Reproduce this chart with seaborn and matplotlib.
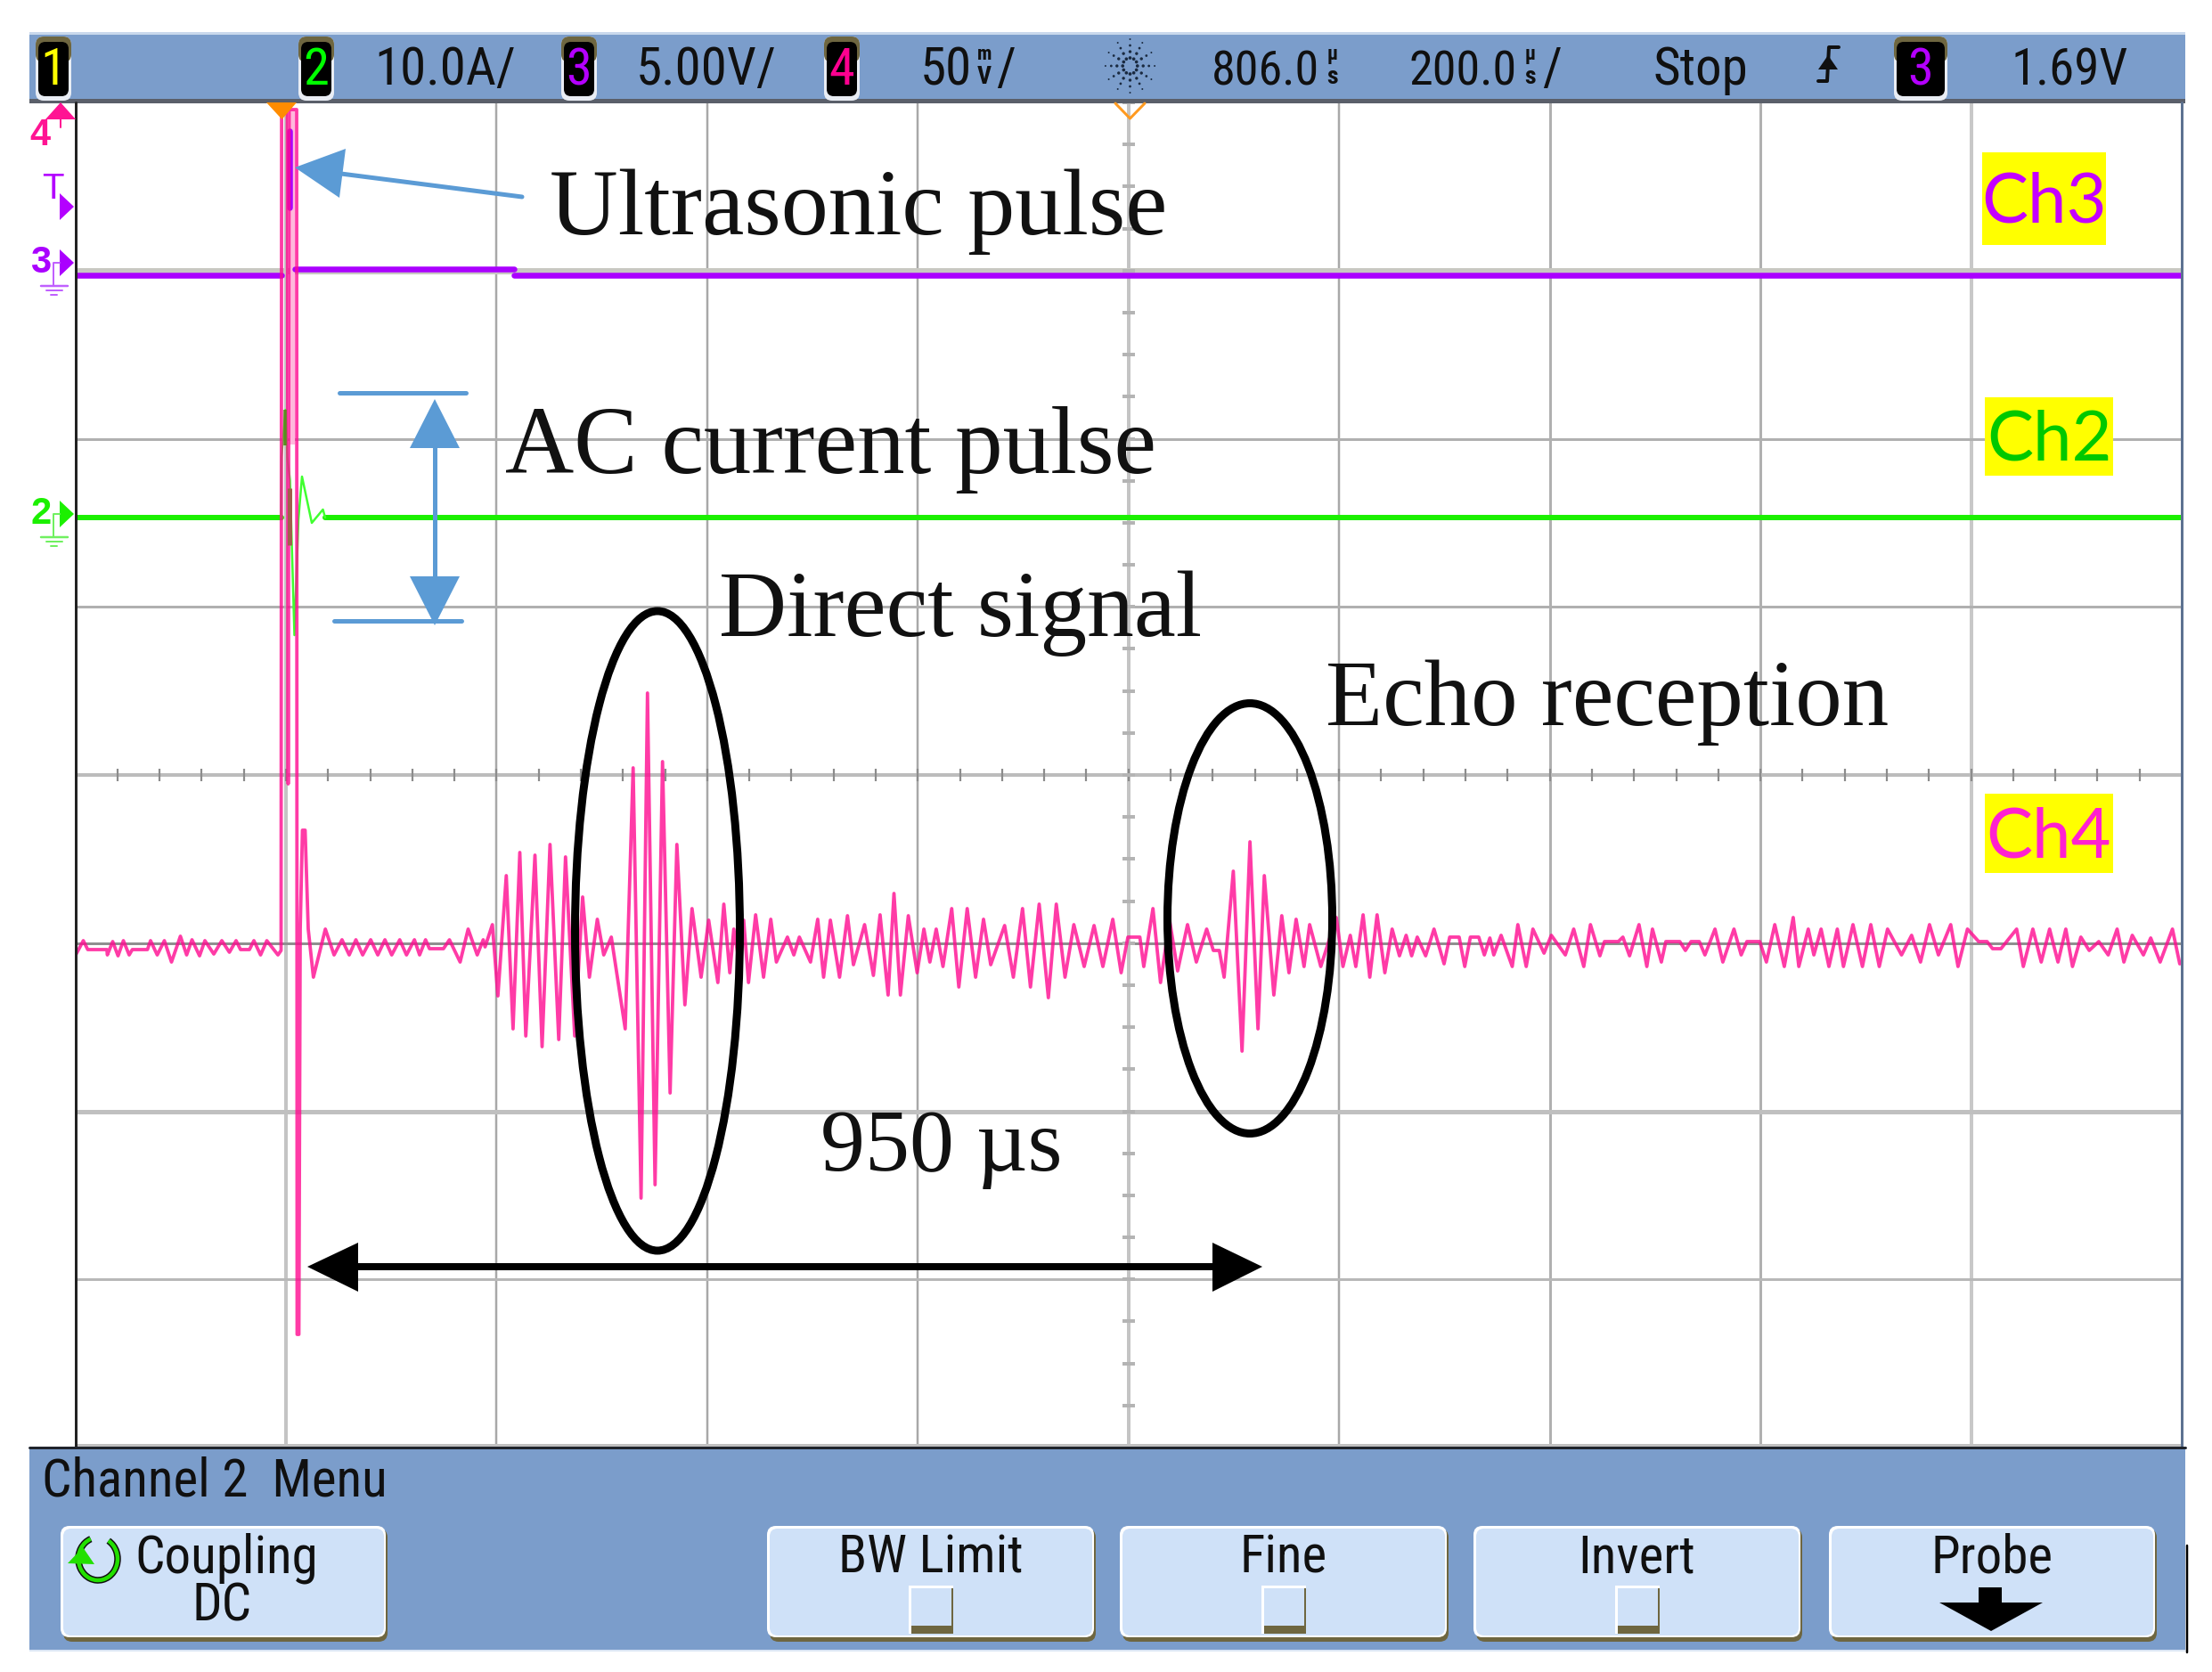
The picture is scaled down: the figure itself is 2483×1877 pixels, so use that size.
import matplotlib
matplotlib.use("Agg")
import matplotlib.pyplot as plt
from matplotlib import font_manager
from matplotlib.patches import Rectangle, FancyBboxPatch, Ellipse, Polygon, Arc
import numpy as np
import pandas as pd
import seaborn as sns

sns.set_theme(style="white")

# trace samples: screen column from left edge, level above the Ch4 ground
ch4_idle_col = [0.5, 9, 14, 35.5, 36, 42, 48, 54, 60.5, 64, 81, 84.5, 92, 100, 108, 118, 125, 131, 139.5, 145.5,
                155.5, 164.5, 173, 180.5, 185.5, 195.5, 200.5, 208, 215, 227.5, 231]
ch4_idle_lev = [-13, 3, -7, -7, -13, 2, -14, 3, -13, -7, -7, 3, -13, 3, -21, 8, -13, 4, -14, 3,
                -12, 3, -10, 3, -7, -7, 3, -13, 3, -13, -8]
ch4_spike_col = [231.6, 238, 239, 240, 248.5, 249, 251, 252.5, 255, 258, 261.5, 267.3, 280.7]
ch4_spike_lev = [936, 936, 179, 936, 936, -439, -439, 16, 127, 127, 16, -38, 16]
ch4_ring_col = [290.5, 299.4, 307.5, 315, 322.6, 331.6, 339.6, 347.6, 355.2, 364.2, 371.8, 380.7, 386.5, 393.2,
                397.6, 413.3, 420, 432, 441, 451.2, 457.9, 460, 468.2, 474.4]
ch4_ring_lev = [-13, 4, -13, 4, -13, 4, -13, 4, -13, 4, -13, 4, -13, 4,
                -6, -6, 4, -21, 16, -13, 4, -4, 21, -59]
ch4_first_col = [483.8, 491.4, 499, 505.7, 516, 524, 532.9, 542.7, 550.3, 560.6, 569.5, 577.1, 586, 593.2, 601.7, 617.3]
ch4_first_lev = [76, -96, 102, -104, 99, -116, 111, -108, 97, -104, 52, -38, 27, -13, 7, -96]
ch4_direct_col = [626.2, 635.1, 642.3, 650.8, 659.2, 667.7, 675.3, 684.3, 692.3, 702.5, 711, 721.3, 728, 734.7,
                  739.2, 745, 750.3, 755.7, 763.7, 772.6, 780.7, 787, 799.4, 806.6, 812.8, 825.3]
ch4_direct_lev = [197, -286, 281, -271, 204, -168, 111, -69, 39, -38, 26, -44, 44, -33,
                  16, -20, 26, -44, 32, -38, 27, -21, 7, -13, 7, -21]
ch4_mid_col = [833.4, 840, 847.6, 857.9, 866.8, 873.5, 886, 895.9, 903.4, 912.4, 919, 926.2, 935.1, 945, 952.6,
               959.3, 966.4, 974, 983.8, 991.8, 1001.2, 1010.6, 1019.5, 1027.6, 1043.2, 1053, 1063.3, 1072.2,
               1082, 1092.3, 1101.2, 1111, 1120.9, 1132.5, 1143.6, 1153.5, 1164.6, 1174, 1181.6, 1195, 1199.4]
ch4_mid_lev = [27, -38, 26, -38, 31, -24, 21, -36, 32, -58, 56, -58, 31, -33, 16,
               -21, 16, -26, 39, -49, 39, -38, 27, -24, 20, -38, 39, -49,
               44, -61, 44, -38, 21, -26, 20, -26, 27, -33, 7, 7, -26]
ch4_echo_col = [1209.7, 1218.2, 1228.4, 1237.4, 1248.5, 1258.4, 1270, 1277.5, 1284.2, 1289.6, 1299.9, 1309.7,
                1318.6, 1327.6, 1334.7, 1345.4, 1354.3, 1362.4, 1370.4, 1379.3, 1385.6, 1398.1]
ch4_echo_lev = [39, -44, 26, -31, 21, -21, 16, -8, -8, -38, 81, -121, 114, -96, 76, -58, 31, -33, 27, -26, 21, -26]
ch4_tail_a_col = [1415.5, 1423, 1431.2, 1437.4, 1445.6, 1453.1, 1461.3, 1470, 1478.2, 1486.4, 1493.9, 1500.1,
                  1506.4, 1515.8, 1525.2, 1536.5, 1542.8, 1553.4, 1559.7, 1566, 1575.4, 1581.7, 1587.9, 1592.3,
                  1600.5, 1613, 1619.3, 1628.7, 1636.2, 1648.7, 1656.9, 1672.6, 1682, 1693.3, 1700.8, 1711.4,
                  1716.5, 1732.1]
ch4_tail_a_lev = [29, -26, 9, -26, 32, -38, 32, -33, 16, -14, 9, -14,
                  7, -14, 16, -23, 7, 7, -26, 7, 7, -13, 6, -13,
                  9, -26, 21, -26, 16, -11, 9, -13, 16, -26, 21, -14,
                  2, 2]
ch4_tail_b_col = [1737.2, 1744.7, 1755.3, 1764.1, 1770.4, 1780.4, 1785.4, 1801.1, 1807.4, 1813.7, 1823, 1829.3,
                  1840.6, 1849.4, 1861.9, 1870, 1876.4, 1890.8, 1898.3, 1907.7, 1918.4, 1928.4, 1934.7, 1945.3,
                  1951.6, 1959.7, 1968.5, 1977.9, 1984.8, 1995.5, 2006.1, 2015.5, 2025, 2034.3, 2050]
ch4_tail_b_lev = [7, -14, 21, -26, 16, -21, 2, 2, -8, 2, 2, -13,
                  16, -21, 16, -13, 2, 2, -21, 21, -26, 29, -26, 16,
                  -13, 16, -26, 16, -26, 21, -26, 21, -26, 16, -13]
ch4_tail_c_col = [2061.3, 2071.3, 2081.4, 2091.4, 2105.2, 2113.4, 2124, 2136.6, 2146, 2152.2, 2161.6, 2179.2,
                  2186.7, 2197.4, 2206.8, 2216.2, 2225.6, 2234.4, 2241.9, 2251.3, 2260.7, 2271.4, 2282, 2292,
                  2299.6, 2309, 2321.5, 2329.7, 2340.3, 2354.1, 2362.3]
ch4_tail_c_lev = [9, -21, 21, -13, 21, -26, 16, 2, 2, -6, -6, 16,
                  -26, 16, -21, 16, -21, 16, -26, 7, -8, 2, -13, 16,
                  -21, 9, -13, 6, -21, 16, -23]

ch3_col = [0, 231, 246.5, 492, 492, 2364.5, 240.5, 240.5]
ch3_lev = [750, 750, 757, 757, 750, 750, 912, 826]
ch3_seg = [0, 0, 1, 1, 2, 2, 3, 3]
ch2_base_col = [0, 231, 280, 2364.5]
ch2_base_lev = [478, 478, 478, 478]
ch2_base_seg = [0, 0, 1, 1]
ch2_pulse_col = [231, 231.5, 236, 238, 241, 246, 250.5, 254.5, 265.5, 278, 280.5]
ch2_pulse_lev = [478, 546, 599, 546, 520, 346, 476, 524, 472, 487, 478]

grid_col_div = [1, 2, 3, 4, 5, 6, 7, 8, 9]
grid_col_tone = ["#c4c4c4", "#a8a8a8", "#a8a8a8", "#a8a8a8", "#c4c4c4", "#a8a8a8", "#b0b0b0", "#b0b0b0", "#c8c8c8"]
grid_col_px = [4, 2.5, 2.5, 2.5, 4, 2.5, 3, 3, 4]
grid_row_div = [1, 2, 3, 4, 5, 6, 7]
grid_row_tone = ["#c8c8c2", "#b0b0b0", "#b0b0b0", "#bcbcbc", "#8f8f8f", "#c0c0c0", "#b8b8b8"]
grid_row_px = [7, 3, 3, 4, 3, 5, 3]

badge_labels = ["1", "2", "3", "4", "3"]
badge_x = [60, 355, 650, 945, 2156]
badge_colors = ["#ffff00", "#00ff00", "#b400ff", "#ff0090", "#b400ff"]
softkey_labels = ["BW Limit", "Fine", "Invert", "Probe"]
softkey_left = [861, 1257, 1654, 2053]
softkey_right = [1228, 1624, 2021, 2419]

W, H = 2483, 1877
PANEL = "#7b9dcb"
KEY = "#cfe1f8"
OLIVE = "#6e6640"
BLUE = "#5b9bd5"
PX = 0.72  # one screen pixel in points at dpi 100
SERIF = ["Liberation Serif", "DejaVu Serif"]

# a condensed face if there is one, else plain sans a bit smaller
have = {f.name for f in font_manager.fontManager.ttflist}
narrow = [n for n in ["Roboto Condensed", "Archivo Narrow", "PT Sans Narrow"] if n in have]
NARROW = narrow[:1] + ["Liberation Sans"]
FS = 42.5 if narrow else 37
FT = 39 if narrow else 33

fig = plt.figure(figsize=(W / 100, H / 100), dpi=100, facecolor="white")

# scope screen, 10 x 8 divisions
L, R, T, B = 84.5, 2449, 115, 1625
ax = fig.add_axes([L / W, 1 - B / H, (R - L) / W, (B - T) / H], zorder=1)
ax.set_xticks([])
ax.set_yticks([])
for s in ax.spines.values():
    s.set_visible(False)

dx = 2364.5 / 10
dy = 1510 / 8
for d, c, w in zip(grid_col_div, grid_col_tone, grid_col_px):
    ax.axvline(d * dx, color=c, lw=w * PX, zorder=1)
for d, c, w in zip(grid_row_div, grid_row_tone, grid_row_px):
    ax.axhline(944 - d * dy, color=c, lw=w * PX, zorder=1)
ax.vlines(np.arange(0, 2364.5, dx / 5), 944 - 4 * dy - 7, 944 - 4 * dy + 7, color="#8c8c8c", lw=2.2 * PX, zorder=1)
ax.hlines(944 - np.arange(0, 1510, dy / 4), 5 * dx - 7, 5 * dx + 7, color="#b4b4b4", lw=4 * PX, zorder=1)

ch4_col = (ch4_idle_col + ch4_spike_col + ch4_ring_col + ch4_first_col + ch4_direct_col + ch4_mid_col
           + ch4_echo_col + ch4_tail_a_col + ch4_tail_b_col + ch4_tail_c_col)
ch4_lev = (ch4_idle_lev + ch4_spike_lev + ch4_ring_lev + ch4_first_lev + ch4_direct_lev + ch4_mid_lev
           + ch4_echo_lev + ch4_tail_a_lev + ch4_tail_b_lev + ch4_tail_c_lev)

df3 = pd.DataFrame({"col": ch3_col, "lev": ch3_lev, "seg": ch3_seg})
df2a = pd.DataFrame({"col": ch2_base_col, "lev": ch2_base_lev, "seg": ch2_base_seg})
df2b = pd.DataFrame({"col": ch2_pulse_col, "lev": ch2_pulse_lev})
df4 = pd.DataFrame({"col": ch4_col, "lev": ch4_lev})

# pale band the repeated pulse leaves next to the trigger line
ax.vlines(243.5, 560, 936, color="#ffb8dc", lw=6 * PX, zorder=2)
sns.lineplot(data=df3, x="col", y="lev", units="seg", estimator=None, sort=False, color="#aa00ff",
             lw=6.5 * PX, ax=ax, zorder=3)
sns.lineplot(data=df2a, x="col", y="lev", units="seg", estimator=None, sort=False, color="#1cf000",
             lw=6 * PX, ax=ax, zorder=3)
sns.lineplot(data=df2b, x="col", y="lev", estimator=None, sort=False, color="#40ff30", lw=2.5 * PX, ax=ax, zorder=3)
sns.lineplot(data=df4, x="col", y="lev", estimator=None, sort=False, color="#ff0a90", lw=3.8 * PX, alpha=0.8,
             solid_joinstyle="round", ax=ax, zorder=4)
ax.vlines(240.5, 447, 511, color="#a0604a", lw=5 * PX, zorder=5)
ax.vlines(235, 559, 599, color="#5a8a20", lw=3.5 * PX, zorder=5)
ax.set_xlabel("")
ax.set_ylabel("")
ax.set_xlim(0, 2364.5)
ax.set_ylim(-566, 944)

# overlay in picture pixels for panels and annotations
sk = fig.add_axes([0, 0, 1, 1], zorder=2)
sk.set_xlim(0, W)
sk.set_ylim(H, 0)
sk.axis("off")
sk.patch.set_alpha(0)


def rect(x0, y0, x1, y1, c, z=2):
    sk.add_patch(Rectangle((x0, y0), x1 - x0, y1 - y0, fc=c, ec="none", zorder=z))


def rbox(x0, y0, x1, y1, r, c, z=2):
    sk.add_patch(FancyBboxPatch((x0 + r, y0 + r), x1 - x0 - 2 * r, y1 - y0 - 2 * r,
                                boxstyle="round,pad=%f,rounding_size=%f" % (r, r), fc=c, ec="none", zorder=z))


def tri(pts, c, z=5):
    sk.add_patch(Polygon(pts, closed=True, fc=c, ec="none", zorder=z))


def bar_text(x, lab, size=FS, ha="left", y=95):
    sk.text(x, y, lab, family=NARROW, fontsize=size, color="#101010", ha=ha, va="baseline", zorder=6)


# top status bar
rect(33, 38, 2453, 112, PANEL)
rect(33, 111, 2453, 116, "#5a5f6a", 3)
rect(33, 36, 2453, 39, "#c9d8ec")
bar_text(420, "10.0A/")
bar_text(714, "5.00V/")
bar_text(1033, "50")
bar_text(1118, "/")
bar_text(1360, "806.0", FT)
bar_text(1582, "200.0", FT)
bar_text(1731, "/")
bar_text(1855, "Stop")
bar_text(2258, "1.69V", 41)
for x, hi, lo in [(1105, "m", "V"), (1496, "µ", "s"), (1718, "µ", "s")]:
    sk.text(x, 61, hi, family=NARROW, fontsize=16, fontweight="bold", color="#101010", ha="center", va="center", zorder=6)
    sk.text(x, 86, lo, family=NARROW, fontsize=20, fontweight="bold", color="#101010", ha="center", va="center", zorder=6)
for lab, x, c in zip(badge_labels, badge_x, badge_colors):
    hw = 30 if x == 2156 else 20
    rbox(x - hw, 41, x + hw, 113, 9, "#e9edf4", 3)
    rbox(x - hw, 41, x + hw, 70, 9, OLIVE, 3)
    rbox(x - hw + 3, 47, x + hw - 3, 108, 8, "#000000", 4)
    sk.text(x, 95, lab, family=NARROW, fontsize=42, color=c, ha="center", va="baseline", zorder=6)

# agilent spark
for a in np.arange(0, 360, 30):
    rr = np.array([9, 16, 23, 30])
    sk.scatter(1268.5 + rr * 0.92 * np.cos(np.radians(a)), 74 + rr * np.sin(np.radians(a)),
               s=[7, 6, 4, 2], color="#1a2a40", lw=0, zorder=6)

# trigger edge glyph
sk.plot([2041, 2051, 2053, 2064], [91, 91, 53, 53], color="#101010", lw=4 * PX, zorder=6)
tri([(2052, 62), (2041, 78), (2063, 78)], "#101010", 6)

# trigger markers along the top
tri([(299, 115), (333, 115), (316.5, 134)], "#ff8c00", 6)
sk.plot([1252, 1268.5, 1285], [116, 133, 116], color="#ff9a20", lw=3 * PX, zorder=6)

# screen frame
sk.plot([L, L], [T, B], color="#222222", lw=3 * PX, zorder=5)
sk.plot([R, R], [T, B], color="#5d7291", lw=3 * PX, zorder=5)
sk.plot([33, R + 4], [B, B], color="#20242c", lw=3 * PX, zorder=5)
sk.plot([L, R], [B - 3, B - 3], color="#c0c0c0", lw=3 * PX, zorder=4)

# channel markers on the left
tri([(68, 115), (51, 134), (85, 134)], "#ff1493")
sk.plot([68, 68], [134, 143], color="#ff1493", lw=2 * PX, zorder=5)
sk.text(45, 152, "4", family=["Liberation Sans"], fontsize=30, fontweight="bold", color="#ff1493", ha="center", va="center", zorder=6)
sk.text(59, 212, "T", family=["Liberation Sans"], fontsize=29, color="#b400ff", ha="center", va="center", zorder=6)
tri([(67, 217), (83, 232), (67, 247)], "#b400ff")
for y, lab, c, cl in [(295, "3", "#aa00ff", "#c060ff"), (577, "2", "#1cf000", "#70f060")]:
    sk.text(46, y, lab, family=["Liberation Sans"], fontsize=30, fontweight="bold", color=c, ha="center", va="center", zorder=6)
    tri([(67, y - 15), (83, y), (67, y + 15)], c)
    sk.plot([60, 60, 67], [y + 26, y, y], color=cl, lw=2 * PX, zorder=5)
    sk.plot([46, 76], [y + 26, y + 26], color=cl, lw=2.5 * PX, zorder=5)
    sk.plot([52, 70], [y + 31, y + 31], color=cl, lw=2 * PX, zorder=5)
    sk.plot([57, 64], [y + 36, y + 36], color=cl, lw=2 * PX, zorder=5)

# yellow channel tags
for lab, x0, y0, x1, y1, c in [("Ch3", 2225, 171, 2364, 275, "#c400ff"),
                               ("Ch2", 2228, 446, 2372, 534, "#00c800"),
                               ("Ch4", 2228, 891, 2372, 980, "#ff20d0")]:
    rect(x0, y0, x1, y1, "#ffff00", 5)
    sk.text((x0 + x1) / 2, (y0 + y1) / 2 + 5, lab, family=["Lato"], fontsize=56, color=c, ha="center", va="center", zorder=6)

# bottom softkey bar
rect(33, 1627, 2453, 1853, PANEL)
rect(33, 1852, 2453, 1854, "#dbe6f4")
bar_text(47, "Channel 2  Menu", y=1680)
sk.plot([2455, 2455], [1735, 1855], color="#000000", lw=2.5 * PX, zorder=6)


def softkey(x0, x1):
    rbox(x0 + 3, 1716, x1 + 2, 1843, 10, OLIVE, 3)
    rbox(x0, 1713, x1, 1838, 10, "#ffffff", 3)
    rbox(x0 + 3, 1716, x1 - 2, 1836, 9, KEY, 4)


softkey(68, 433)
for x0, x1, lab in zip(softkey_left, softkey_right, softkey_labels):
    softkey(x0, x1)
    bar_text((x0 + x1) / 2, lab, ha="center", y=1766)
for x0, x1 in zip(softkey_left[:3], softkey_right[:3]):
    cx = (x0 + x1) / 2
    rect(cx - 25, 1780, cx + 25, 1834, "#ffffff", 5)
    rect(cx - 22, 1783, cx + 25, 1834, OLIVE, 5)
    rect(cx - 22, 1783, cx + 23, 1825, KEY, 5)
rect(2221, 1782, 2247, 1801, "#000000", 6)
tri([(2177, 1799), (2293, 1799), (2235, 1831)], "#000000", 6)

bar_text(151, "Coupling", y=1766)
bar_text(249, "DC", ha="center", y=1820)
sk.add_patch(Arc((110, 1750), 44, 48, theta1=-60, theta2=250, ec="#101010", lw=7.5 * PX, zorder=5))
sk.add_patch(Arc((110, 1750), 44, 48, theta1=-60, theta2=250, ec="#22e000", lw=4.5 * PX, zorder=6))
tri([(93, 1737), (76, 1755), (106, 1756)], "#22e000", 6)

# annotations over the trace
sk.text(617, 263, "Ultrasonic pulse", family=SERIF, fontsize=76.5, color="#111111", ha="left", va="baseline", zorder=7)
sk.text(567, 531, "AC current pulse", family=SERIF, fontsize=77, color="#111111", ha="left", va="baseline", zorder=7)
sk.text(807, 714, "Direct signal", family=SERIF, fontsize=76, color="#111111", ha="left", va="baseline", zorder=7)
sk.text(1488, 814, "Echo reception", family=SERIF, fontsize=75.5, color="#111111", ha="left", va="baseline", zorder=7)
sk.text(921, 1314, "950 µs", family=SERIF, fontsize=72, color="#111111", ha="left", va="baseline", zorder=7)

sk.add_patch(Ellipse((738, 1045), 185, 718, fc="none", ec="#000000", lw=9 * PX, zorder=6))
sk.add_patch(Ellipse((1403, 1031), 185, 483, fc="none", ec="#000000", lw=9 * PX, zorder=6))

# ultrasonic arrow
sk.plot([586, 375], [221, 194], color=BLUE, lw=5 * PX, zorder=6)
tri([(331, 188), (388, 167), (381, 222)], BLUE, 6)

# current span arrow
sk.plot([381, 523], [441, 441], color=BLUE, lw=5 * PX, zorder=6)
sk.plot([375, 518], [697, 697], color=BLUE, lw=5 * PX, zorder=6)
sk.plot([488, 488], [500, 650], color=BLUE, lw=5 * PX, zorder=6)
tri([(488, 448), (460, 503), (516, 503)], BLUE, 6)
tri([(488, 702), (460, 647), (516, 647)], BLUE, 6)

# 950 us span arrow
sk.plot([400, 1363], [1422, 1422], color="#000000", lw=8 * PX, zorder=6)
tri([(345, 1422), (402, 1395), (402, 1450)], "#000000", 6)
tri([(1417, 1422), (1361, 1395), (1361, 1450)], "#000000", 6)

fig.savefig("out.png", dpi=100)
